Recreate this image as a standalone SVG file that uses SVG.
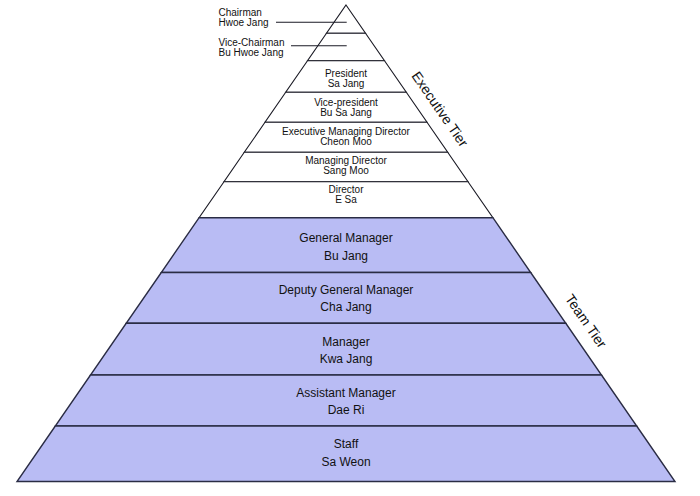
<svg xmlns="http://www.w3.org/2000/svg" width="700" height="496" viewBox="0 0 700 496">
  <style>
    .exec { fill: #ffffff; stroke: #1a1a24; stroke-width: 1.1; stroke-linejoin: miter; }
    .team { fill: #b9bcf4; stroke: #2a2c44; stroke-width: 1.4; stroke-linejoin: miter; }
    .t10 { font-family: "Liberation Sans", Arial, sans-serif; font-size: 10px; fill: #111111; text-anchor: middle; }
    .t10l { font-family: "Liberation Sans", Arial, sans-serif; font-size: 10px; fill: #111111; text-anchor: start; }
    .t12 { font-family: "Liberation Sans", Arial, sans-serif; font-size: 12px; fill: #111111; text-anchor: middle; }
    .tier { font-family: "Liberation Sans", Arial, sans-serif; font-size: 14px; fill: #111111; text-anchor: middle; }
    .leader { stroke: #1a1a24; stroke-width: 1.1; fill: none; }
  </style>
  <rect width="700" height="496" fill="#ffffff"/>

  <g id="chairman">
    <polygon class="exec" points="346,5 365.5,33.3 326.5,33.3"/>
    <text class="t10l" x="218.5" y="16.3">Chairman</text>
    <text class="t10l" x="218.5" y="26.3">Hwoe Jang</text>
  </g>
  <g id="vice-chairman">
    <polygon class="exec" points="326.5,33.3 365.5,33.3 384.5,60.7 307.5,60.7"/>
    <text class="t10l" x="218.5" y="45.8">Vice-Chairman</text>
    <text class="t10l" x="218.5" y="55.8">Bu Hwoe Jang</text>
  </g>
  <g id="president">
    <polygon class="exec" points="307.5,60.7 384.5,60.7 406.3,92.3 285.7,92.3"/>
    <text class="t10" x="346" y="76.5">President</text>
    <text class="t10" x="346" y="86.5">Sa Jang</text>
  </g>
  <g id="vice-president">
    <polygon class="exec" points="285.7,92.3 406.3,92.3 427,122.3 265,122.3"/>
    <text class="t10" x="346" y="106">Vice-president</text>
    <text class="t10" x="346" y="116">Bu Sa Jang</text>
  </g>
  <g id="executive-managing-director">
    <polygon class="exec" points="265,122.3 427,122.3 447.7,152.3 244.3,152.3"/>
    <text class="t10" x="346" y="135">Executive Managing Director</text>
    <text class="t10" x="346" y="145">Cheon Moo</text>
  </g>
  <g id="managing-director">
    <polygon class="exec" points="244.3,152.3 447.7,152.3 468,181.7 224,181.7"/>
    <text class="t10" x="346" y="163.7">Managing Director</text>
    <text class="t10" x="346" y="173.7">Sang Moo</text>
  </g>
  <g id="director">
    <polygon class="exec" points="224,181.7 468,181.7 492.9,217.7 199.1,217.7"/>
    <text class="t10" x="346" y="193">Director</text>
    <text class="t10" x="346" y="203">E Sa</text>
  </g>

  <g id="general-manager">
    <polygon class="team" points="199.1,217.7 492.9,217.7 530.7,272.5 161.3,272.5"/>
    <text class="t12" x="346" y="242.3">General Manager</text>
    <text class="t12" x="346" y="260">Bu Jang</text>
  </g>
  <g id="deputy-general-manager">
    <polygon class="team" points="161.3,272.5 530.7,272.5 565.8,323.3 126.2,323.3"/>
    <text class="t12" x="346" y="293.5">Deputy General Manager</text>
    <text class="t12" x="346" y="310.5">Cha Jang</text>
  </g>
  <g id="manager">
    <polygon class="team" points="126.2,323.3 565.8,323.3 601.5,375 90.5,375"/>
    <text class="t12" x="346" y="345.5">Manager</text>
    <text class="t12" x="346" y="362.5">Kwa Jang</text>
  </g>
  <g id="assistant-manager">
    <polygon class="team" points="90.5,375 601.5,375 636.7,426 55.3,426"/>
    <text class="t12" x="346" y="396.7">Assistant Manager</text>
    <text class="t12" x="346" y="413.5">Dae Ri</text>
  </g>
  <g id="staff">
    <polygon class="team" points="55.3,426 636.7,426 675,481.5 17,481.5"/>
    <text class="t12" x="346" y="448">Staff</text>
    <text class="t12" x="346" y="465.5">Sa Weon</text>
  </g>

  <g id="tiers">
    <text class="tier" transform="translate(440,109) rotate(55.4)" dominant-baseline="central">Executive Tier</text>
    <text class="tier" transform="translate(586,321) rotate(55.4)" dominant-baseline="central">Team Tier</text>
  </g>

  <g id="connectors">
    <line class="leader" x1="276" y1="22.3" x2="346.7" y2="22.3"/>
    <line class="leader" x1="291" y1="45.7" x2="346.7" y2="45.7"/>
  </g>
</svg>
